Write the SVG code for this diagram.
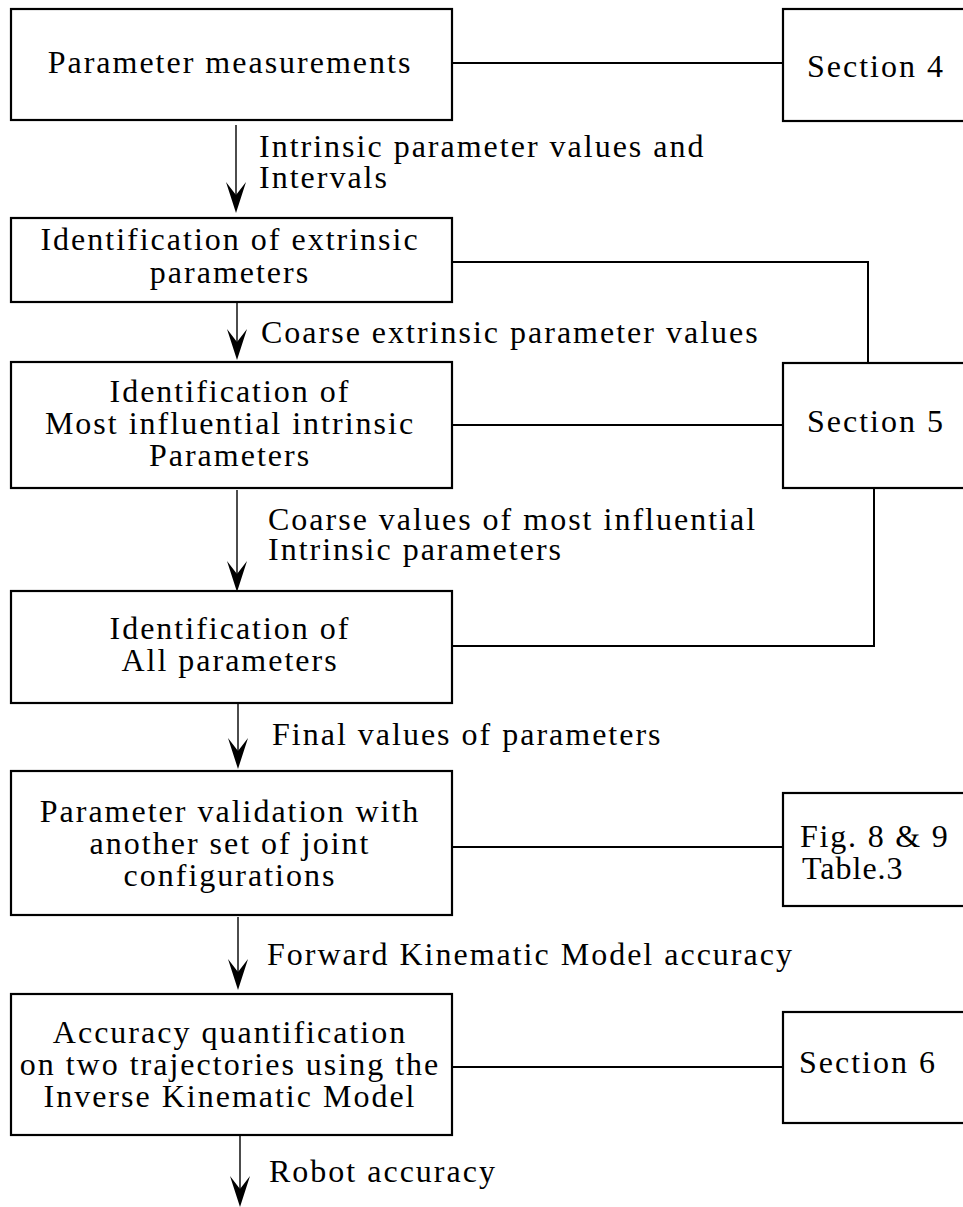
<svg xmlns="http://www.w3.org/2000/svg" width="963" height="1207" viewBox="0 0 963 1207">
  <style>
    .box { fill: #ffffff; stroke: #000000; stroke-width: 2.2; }
    .link { fill: none; stroke: #000000; stroke-width: 2; }
    .arrow { fill: none; stroke: #000000; stroke-width: 1.4; }
    text { font-family: "Liberation Serif", "Times New Roman", serif; font-size: 32px; fill: #000000; }
    .c { text-anchor: middle; letter-spacing: 2px; }
    .lbl { letter-spacing: 2px; }
    .ref { letter-spacing: 2px; }
    .fig { letter-spacing: 1.8px; }
    .tight { letter-spacing: 1px; }
  </style>
  <defs>
    <marker id="ah" viewBox="0 0 31 20" markerWidth="31" markerHeight="20" refX="16" refY="10" orient="auto" markerUnits="userSpaceOnUse">
      <path d="M0,0 L31,10 L0,20 L13,10 Z" fill="#000000"/>
    </marker>
  </defs>
  <rect width="963" height="1207" fill="#ffffff"/>

  <g id="connectors">
    <line class="link" x1="452" y1="63" x2="783" y2="63"/>
    <polyline class="link" points="452,262 868,262 868,363"/>
    <line class="link" x1="452" y1="425" x2="783" y2="425"/>
    <polyline class="link" points="874,488 874,646 452,646"/>
    <line class="link" x1="452" y1="847" x2="783" y2="847"/>
    <line class="link" x1="452" y1="1067" x2="783" y2="1067"/>

    <line class="arrow" x1="236" y1="125" x2="236" y2="198" marker-end="url(#ah)"/>
    <line class="arrow" x1="237" y1="303" x2="237" y2="345" marker-end="url(#ah)"/>
    <line class="arrow" x1="237" y1="490" x2="237" y2="577" marker-end="url(#ah)"/>
    <line class="arrow" x1="238" y1="704" x2="238" y2="754" marker-end="url(#ah)"/>
    <line class="arrow" x1="238" y1="917" x2="238" y2="975" marker-end="url(#ah)"/>
    <line class="arrow" x1="240" y1="1136" x2="240" y2="1192" marker-end="url(#ah)"/>

    <text class="lbl" x="259" y="157">Intrinsic parameter values and</text>
    <text class="lbl" x="259" y="188">Intervals</text>
    <text class="lbl" x="261" y="343">Coarse extrinsic parameter values</text>
    <text class="lbl" x="268" y="530">Coarse values of most influential</text>
    <text class="lbl" x="268" y="560">Intrinsic parameters</text>
    <text class="lbl" x="272" y="745">Final values of parameters</text>
    <text class="lbl" x="267" y="965">Forward Kinematic Model accuracy</text>
    <text class="lbl" x="269" y="1182">Robot accuracy</text>
  </g>

  <g id="n-measure">
    <rect class="box" x="11" y="9" width="441" height="111"/>
    <text class="c" x="230" y="73">Parameter measurements</text>
  </g>
  <g id="n-sec4">
    <rect class="box" x="783" y="9" width="200" height="112"/>
    <text class="ref" x="807" y="77">Section 4</text>
  </g>
  <g id="n-extrinsic">
    <rect class="box" x="11" y="218" width="441" height="84"/>
    <text class="c" x="230" y="250">Identification of extrinsic</text>
    <text class="c" x="230" y="283">parameters</text>
  </g>
  <g id="n-influential">
    <rect class="box" x="11" y="362" width="441" height="126"/>
    <text class="c" x="230" y="402">Identification of</text>
    <text class="c" x="230" y="434">Most influential intrinsic</text>
    <text class="c" x="230" y="466">Parameters</text>
  </g>
  <g id="n-sec5">
    <rect class="box" x="783" y="363" width="200" height="125"/>
    <text class="ref" x="807" y="432">Section 5</text>
  </g>
  <g id="n-all">
    <rect class="box" x="11" y="591" width="441" height="112"/>
    <text class="c" x="230" y="639">Identification of</text>
    <text class="c" x="230" y="671">All parameters</text>
  </g>
  <g id="n-validation">
    <rect class="box" x="11" y="771" width="441" height="144"/>
    <text class="c" x="230" y="822">Parameter validation with</text>
    <text class="c" x="230" y="854">another set of joint</text>
    <text class="c" x="230" y="886">configurations</text>
  </g>
  <g id="n-fig">
    <rect class="box" x="783" y="793" width="200" height="113"/>
    <text class="fig" x="800" y="847">Fig. 8 &amp; 9</text>
    <text class="tight" x="802" y="879">Table.3</text>
  </g>
  <g id="n-accuracy">
    <rect class="box" x="11" y="994" width="441" height="141"/>
    <text class="c" x="230" y="1043">Accuracy quantification</text>
    <text class="c" x="230" y="1075">on two trajectories using the</text>
    <text class="c" x="230" y="1107">Inverse Kinematic Model</text>
  </g>
  <g id="n-sec6">
    <rect class="box" x="783" y="1012" width="200" height="111"/>
    <text class="ref" x="799" y="1073">Section 6</text>
  </g>
</svg>
